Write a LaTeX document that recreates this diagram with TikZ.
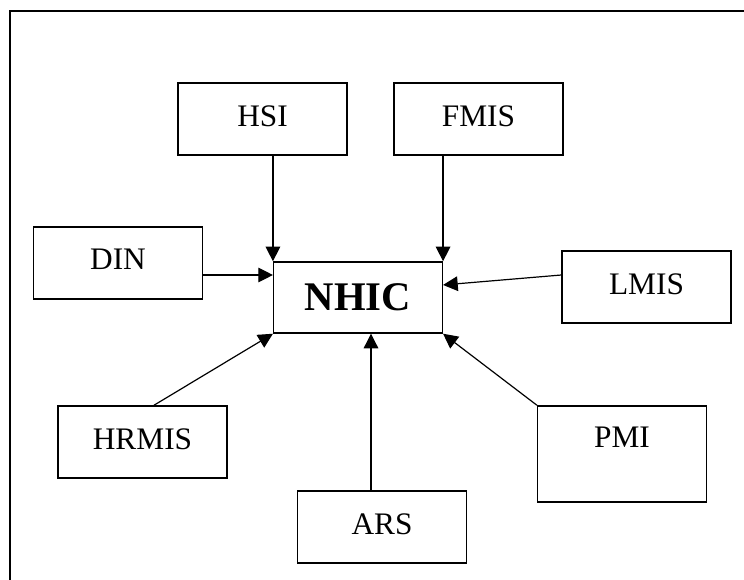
\documentclass[tikz,border=0pt]{standalone}
\usepackage{fontspec}
\setmainfont{Liberation Serif}
\usetikzlibrary{arrows.meta}
\usetikzlibrary{calc}

\begin{document}
\begin{tikzpicture}[x=0.75pt,y=-0.75pt,
		sysbox/.style={draw, line width=1.1pt, minimum width=126.5pt, minimum height=54pt,
			inner sep=0pt, text depth=5pt, font=\fontsize{23.5}{28}\selectfont},
		feed/.style={-{Triangle[length=11pt,width=11pt]}, line width=0.9pt}]
			
			% page area, only top and left edges show
			\useasboundingbox (0,0) rectangle (744,580);
			\draw[line width=1.6pt] (10,580) -- (10,11) -- (744,11);
			
			% hub
			\node[sysbox, minimum height=53.25pt, text depth=0pt,
				font=\fontsize{30.5}{36}\selectfont\bfseries] (nhic) at (358,297.5) {NHIC};
			
			% source systems
			\node[sysbox] (hsi)   at (262.5,119) {HSI};
			\node[sysbox] (fmis)  at (478.5,119) {FMIS};
			\node[sysbox] (din)   at (118,263)   {DIN};
			\node[sysbox] (lmis)  at (646.5,287) {LMIS};
			\node[sysbox] (hrmis) at (142.5,442) {HRMIS};
			\node[sysbox] (ars)   at (382,527)   {ARS};
			\node[sysbox, minimum height=72pt, text depth=25.5pt] (pmi) at (622,454) {PMI};
			
			% vertical feeds from above
			\draw[feed] (hsi.south -| nhic.north west) -- (nhic.north west);
			\draw[feed] (fmis.south -| nhic.north east) -- (nhic.north east);
			
			% side feeds
			\coordinate (dinout) at ([yshift=-9pt]din.east);
			\draw[feed] (dinout) -- (dinout -| nhic.west);
			\draw[feed] ([yshift=9pt]lmis.west) -- ([yshift=9.4pt]nhic.east);
			
			% feeds from below
			\draw[feed] ([xshift=8.6pt]hrmis.north) -- (nhic.south west);
			\coordinate (arsout) at ([xshift=-8.25pt]ars.north);
			\draw[feed] (arsout) -- (arsout |- nhic.south);
			\draw[feed] (pmi.north west) -- (nhic.south east);
			
		\end{tikzpicture}
\end{document}
